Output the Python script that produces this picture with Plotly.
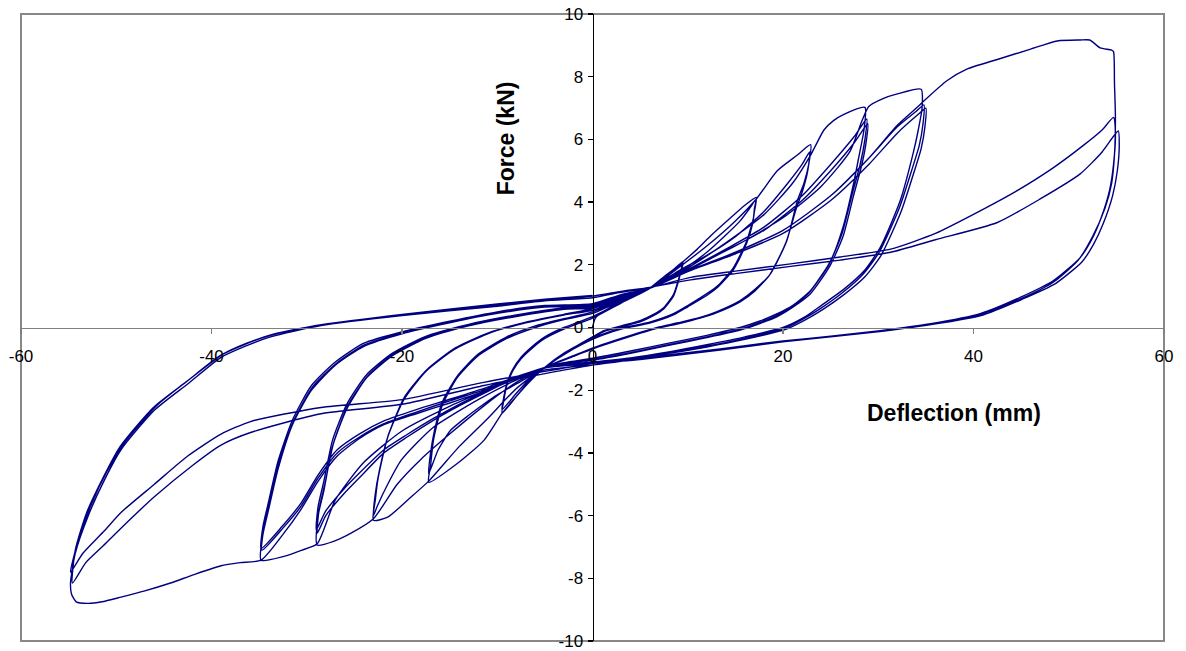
import plotly.graph_objects as go

# Tick values
x_ticks = [-60, -40, -20, 0, 20, 40, 60]
y_ticks = [-10, -8, -6, -4, -2, 0, 2, 4, 6, 8, 10]

# Hysteresis record, cycle by cycle: (deflection mm, force kN)
cyc_10a = [(0,0),(0.3,0.3),(1.2,0.52),(3,0.82),(4.8,1.05),(6,1.25),(7.5,1.6),(8.5,1.85),(9.5,2.1),
           (9.3,1.85),(9.0,1.5),(8.5,1.05),(7.5,0.64),(6.3,0.4),(5,0.22),(3,0.05),(1.2,-0.1),(0,-0.3),(-2,-0.65),(-3.8,-1.0),(-5,-1.27),(-6.5,-1.65),(-8,-2.2),(-9.5,-2.74),
           (-9.3,-2.3),(-9.0,-1.85),(-8.4,-1.4),(-7.5,-1.0),(-6.3,-0.65),(-5,-0.35),(-3,-0.05)]
cyc_10b = [(0,0.3),(3,0.78),(4.8,1.05),(6,1.25),(7.5,1.55),(8.5,1.8),(9.5,2.05),
           (9.3,1.8),(9.0,1.45),(8.5,1.0),(7.5,0.6),(6.3,0.36),(5,0.18),(3,0.02),(1.2,-0.13),(0,-0.33),(-2,-0.68),(-3.8,-1.02),(-5,-1.27),(-6.5,-1.6),(-8,-2.1),(-9.5,-2.62),
           (-9.3,-2.2),(-9.0,-1.8),(-8.4,-1.35),(-7.5,-0.95),(-6.3,-0.6),(-5,-0.3),(-3,0.0)]
cyc_17a = [(0,0.35),(3,0.8),(4.8,1.05),(6,1.25),(7.5,1.62),(8.5,1.85),(9.5,2.1),(11,2.5),(12.5,2.95),(14.5,3.5),(16,3.9),(17.2,4.15),
           (17.0,3.8),(16.9,3.5),(16.2,2.77),(14.8,1.91),(13.2,1.35),(12,1.08),(10,0.7),(8.5,0.44),(6,0.17),(3.3,0),(1,-0.22),(-1,-0.48),(-3,-0.82),(-5,-1.27),(-6.5,-1.7),(-8,-2.2),(-9.5,-2.74),(-11.4,-3.6),(-14.2,-4.34),(-17.2,-4.94),
           (-17.0,-4.4),(-16.7,-3.6),(-15.8,-2.5),(-14.2,-1.6),(-12,-0.9),(-9,-0.35),(-6,0.0),(-3,0.25)]
cyc_17b = [(0,0.45),(3,0.85),(6,1.25),(8,1.6),(10,1.95),(12,2.4),(14,2.95),(15.5,3.4),(16.5,3.8),(17.2,4.1),
           (17.0,3.7),(16.8,3.3),(16.2,2.7),(14.8,1.85),(13.2,1.3),(12,1.02),(10,0.66),(8.5,0.4),(6,0.14),(3.3,-0.03),(1,-0.25),(-1,-0.52),(-3,-0.86),(-5,-1.27),(-8,-1.8),(-10,-2.15),(-11.4,-2.44),(-13,-2.8),(-14.9,-3.28),(-16.2,-3.9),(-17.2,-4.66),
           (-17.0,-4.0),(-16.6,-3.3),(-15.8,-2.4),(-14.2,-1.55),(-12,-0.85),(-9,-0.3),(-6,0.05),(-3,0.28)]
cyc_23a = [(0,0.5),(3,0.88),(6,1.25),(9,1.9),(12,2.6),(15,3.4),(17.2,4.1),(19.4,5.0),(21.5,5.5),(22.9,5.83),
           (22.7,5.2),(22.2,4.6),(21.5,4.04),(20.4,2.77),(18.7,1.72),(17,1.2),(15.5,0.86),(13,0.5),(11.3,0.32),(9,0.15),(6.8,0),(4,-0.25),(1,-0.55),(-2,-0.9),(-5,-1.27),(-8,-1.95),(-11,-2.9),(-14,-3.8),(-17.2,-4.9),(-19.4,-5.5),(-21.5,-6.05),(-23,-6.15),
           (-22.8,-5.5),(-22.5,-4.8),(-21.5,-3.5),(-19.8,-2.3),(-17.5,-1.4),(-14.5,-0.7),(-11,-0.2),(-7,0.15),(-3,0.4)]
cyc_23b = [(0,0.55),(3,0.9),(6,1.25),(9,1.8),(12,2.3),(15,2.9),(18,3.7),(20.5,4.6),(22,5.2),(22.8,5.6),
           (22.6,5.0),(22.1,4.4),(21.4,3.8),(20.3,2.7),(18.6,1.68),(17,1.15),(15.5,0.82),(13,0.47),(11.3,0.3),(9,0.12),(6.8,-0.03),(4,-0.28),(1,-0.58),(-2,-0.92),(-5,-1.27),(-8.2,-1.7),(-12,-2.3),(-14.5,-2.75),(-16.7,-3.18),(-18.5,-3.7),(-20.1,-4.24),(-21.5,-5.0),(-22.6,-5.7),(-23,-6.0),
           (-22.8,-5.3),(-22.4,-4.6),(-21.4,-3.4),(-19.7,-2.2),(-17.4,-1.35),(-14.4,-0.65),(-11,-0.18),(-7,0.17),(-3,0.42)]
cyc_29a = [(0,0.6),(3,0.92),(6,1.25),(10,1.9),(14,2.7),(18,3.6),(21,4.6),(22.9,5.5),(24.3,6.3),(25.3,6.6),(26.4,6.8),(28.6,7.02),
           (28.5,6.3),(28,5.5),(27.4,4.58),(26.3,3.2),(25,2.13),(22.9,1.18),(21,0.7),(19.4,0.44),(17.5,0.2),(15.5,0),(12,-0.25),(8,-0.5),(4,-0.75),(0,-0.98),(-3,-1.12),(-5,-1.27),(-8,-1.75),(-11.4,-2.5),(-15,-3.4),(-18,-4.2),(-20.5,-5.0),(-23,-6.1),(-25.4,-6.57),(-27,-6.8),(-28.9,-6.94),
           (-28.8,-6.0),(-28.2,-5.2),(-27.3,-3.8),(-25.8,-2.6),(-23.7,-1.6),(-21,-0.9),(-17.5,-0.35),(-13,0.05),(-8,0.35),(-3,0.58)]
cyc_29b = [(0,0.62),(3,0.95),(6,1.25),(10,1.85),(14,2.5),(18,3.2),(22,4.2),(25,5.2),(27.5,6.1),(28.8,6.65),
           (28.6,6.0),(28.1,5.2),(27.3,4.3),(26.2,3.0),(24.8,2.0),(22.7,1.1),(21,0.68),(19.3,0.38),(17.5,0.15),(15.5,-0.05),(12,-0.3),(8,-0.55),(4,-0.8),(0,-1.02),(-3,-1.14),(-5,-1.27),(-8,-1.6),(-11.4,-2.1),(-14,-2.5),(-16.7,-2.96),(-19.5,-3.5),(-21.9,-4.0),(-24.5,-4.8),(-26.1,-5.3),(-28,-6.0),(-28.9,-6.56),
           (-28.7,-5.8),(-28.1,-5.0),(-27.2,-3.7),(-25.7,-2.5),(-23.6,-1.55),(-20.9,-0.85),(-17.4,-0.3),(-13,0.08),(-8,0.38),(-3,0.6)]
cyc_29c = [(0,0.64),(3,0.96),(6,1.25),(10,1.82),(14,2.45),(18,3.1),(22,4.05),(25,5.0),(27.5,5.9),(28.9,6.5),
           (28.7,5.85),(28.2,5.1),(27.4,4.2),(26.3,2.9),(24.9,1.95),(22.8,1.05),(21,0.64),(19.4,0.35),(17.5,0.12),(15.5,-0.08),(12,-0.32),(8,-0.57),(4,-0.82),(0,-1.04),(-3,-1.15),(-5,-1.28),(-8,-1.58),(-11.4,-2.05),(-14,-2.45),(-16.7,-2.9),(-19.5,-3.42),(-21.9,-3.9),(-24.5,-4.65),(-26.1,-5.15),(-28,-5.85),(-29,-6.45),
           (-28.8,-5.7),(-28.2,-4.9),(-27.3,-3.6),(-25.8,-2.45),(-23.7,-1.5),(-21,-0.82),(-17.5,-0.28),(-13,0.1),(-8,0.4),(-3,0.62)]
cyc_35a = [(0,0.66),(3,0.98),(6,1.25),(10,1.85),(15,2.6),(20,3.5),(24,4.5),(27,5.6),(28.3,6.6),(29,7.05),(30.5,7.3),(32,7.45),(34.5,7.6),
           (34.6,7.0),(34.2,6.3),(33.7,5.6),(32.3,4.04),(30.2,2.55),(28.5,1.8),(26.3,1.2),(24,0.7),(22.2,0.32),(20,0),(16,-0.3),(12,-0.55),(8,-0.78),(4,-0.97),(0,-1.1),(-3,-1.18),(-5,-1.28),(-8,-1.6),(-14.9,-2.5),(-20,-3.3),(-24,-4.3),(-27,-5.5),(-28.9,-6.9),(-30.5,-7.1),(-32.4,-7.3),(-34.8,-7.42),
           (-34.6,-6.6),(-34,-5.8),(-33,-4.5),(-31.5,-3.1),(-29.5,-2.0),(-27,-1.2),(-24,-0.6),(-20,-0.2),(-15,0.15),(-10,0.45),(-5,0.65)]
cyc_35b = [(0,0.7),(3,1.0),(6,1.25),(10,1.8),(15,2.4),(20,3.1),(25,4.2),(29,5.4),(32,6.4),(34,6.9),(34.8,7.1),
           (34.7,6.5),(34.3,5.8),(33.6,5.1),(32.2,3.8),(30.1,2.4),(28.4,1.7),(26.2,1.1),(24,0.62),(22,0.25),(20,-0.05),(16,-0.35),(12,-0.6),(8,-0.8),(4,-0.98),(0,-1.12),(-3,-1.2),(-5,-1.28),(-7.9,-1.58),(-11,-1.95),(-14.9,-2.33),(-18.5,-2.7),(-21.9,-3.07),(-24.5,-3.5),(-26.8,-4.0),(-28.8,-4.8),(-30.6,-5.7),(-32.5,-6.4),(-34.7,-7.1),
           (-34.5,-6.4),(-33.9,-5.6),(-32.9,-4.3),(-31.4,-3.0),(-29.4,-1.9),(-26.9,-1.15),(-23.9,-0.55),(-20,-0.18),(-15,0.18),(-10,0.48),(-5,0.68)]
cyc_35c = [(0,0.72),(3,1.02),(6,1.25),(10,1.78),(15,2.35),(20,3.0),(25,4.05),(29,5.2),(32,6.2),(34.2,6.8),(35,7.0),
           (34.9,6.4),(34.5,5.7),(33.8,5.0),(32.4,3.7),(30.3,2.3),(28.6,1.62),(26.4,1.05),(24.2,0.58),(22.2,0.22),(20.2,-0.07),(16,-0.38),(12,-0.62),(8,-0.82),(4,-1.0),(0,-1.14),(-3,-1.22),(-5,-1.29),(-7.9,-1.56),(-11,-1.9),(-14.9,-2.28),(-18.5,-2.62),(-21.9,-2.98),(-24.5,-3.4),(-26.8,-3.9),(-28.8,-4.7),(-30.6,-5.6),(-32.6,-6.35),(-34.8,-7.05),
           (-34.6,-6.35),(-34,-5.55),(-33,-4.25),(-31.5,-2.95),(-29.5,-1.85),(-27,-1.1),(-24,-0.5),(-20,-0.14),(-15,0.2),(-10,0.5),(-5,0.7)]
cyc_55a = [(0,0.76),(3,1.05),(6,1.25),(10,1.78),(15,2.4),(20,3.1),(25,4.2),(29,5.4),(32,6.45),(34,7.0),(34.7,7.2),(37.2,7.87),(39.3,8.24),(42.5,8.55),(46,8.88),(48.8,9.14),(51.2,9.17),(52.2,9.17),(53.3,8.92),(54.5,8.85),(54.7,8.8),(54.8,7.8),(54.9,6.7),
           (54.8,5.5),(54.5,4.6),(53.8,3.8),(52.5,2.9),(51,2.15),(48.4,1.45),(45,0.92),(40.7,0.42),(35.5,0.1),(30.2,-0.12),(25,-0.3),(20,-0.45),(13.4,-0.7),(5,-1.0),(0,-1.2),(-5,-1.35),(-7.9,-1.62),(-11,-2.0),(-14.9,-2.4),(-18.5,-2.75),(-21.9,-3.1),(-24.5,-3.55),(-26.8,-4.1),(-28.8,-4.9),(-30.6,-5.8),(-32.5,-6.6),(-34.8,-7.42),(-37,-7.5),(-39,-7.6),(-42,-7.9),(-44.3,-8.15),(-47,-8.4),(-49.5,-8.6),(-51.5,-8.75),(-53,-8.8),(-54.2,-8.75),(-54.7,-8.5),(-54.8,-8.15),
           (-54.3,-7.2),(-53,-6.05),(-51.3,-4.9),(-49.5,-3.9),(-46,-2.64),(-42.5,-1.8),(-39,-0.95),(-36.5,-0.6),(-33.8,-0.3),(-28.5,0.06),(-20,0.38),(-10,0.68),(-5,0.85)]
cyc_55b = [(0,0.95),(3,1.12),(6,1.27),(10.3,1.6),(15,1.8),(20.8,2.03),(26,2.25),(31.3,2.5),(36,3.0),(40.7,3.72),(44.5,4.35),(48.4,5.1),(51.5,5.8),(53.5,6.3),(54.7,6.7),
           (54.9,6.2),(54.7,5.2),(54.3,4.4),(53.4,3.5),(52.4,2.8),(51.2,2.23),(48.4,1.5),(44.9,0.96),(40.7,0.44),(35.5,0.12),(30.2,-0.1),(25,-0.28),(20,-0.43),(13.4,-0.68),(5,-0.98),(0,-1.2),(-5,-1.47),(-11.4,-1.85),(-20,-2.45),(-28.5,-2.75),(-35.9,-3.35),(-39,-3.75),(-42,-4.4),(-46,-5.4),(-49.5,-6.4),(-51.5,-7.0),(-53.2,-7.5),(-54.6,-8.15),
           (-54.3,-7.1),(-53.1,-5.9),(-51.4,-4.8),(-49.6,-3.8),(-46.1,-2.55),(-42.6,-1.72),(-39.1,-0.9),(-36.6,-0.55),(-33.9,-0.26),(-28.6,0.08),(-20,0.4),(-10,0.72),(-5,0.88)]
cyc_55c = [(0,1.0),(3,1.15),(6,1.28),(10.3,1.52),(15,1.72),(20.8,1.95),(26,2.15),(31.3,2.4),(36,2.8),(42.5,3.35),(47,4.1),(51.2,4.9),(53.5,5.6),(54.7,6.1),(55.2,6.27),
           (55.3,5.8),(55.1,5.0),(54.6,4.2),(53.6,3.3),(52.6,2.65),(51.4,2.1),(48.6,1.4),(45.1,0.9),(41,0.4),(35.7,0.1),(30.4,-0.12),(25,-0.3),(20,-0.46),(13.4,-0.72),(5,-1.02),(0,-1.15),(-5,-1.4),(-11.4,-1.75),(-20,-2.3),(-28.5,-2.55),(-35.9,-3.0),(-39,-3.4),(-42.5,-4.1),(-46,-5.0),(-49.5,-5.9),(-51.3,-6.5),(-53.5,-7.2),(-54.8,-7.8),
           (-54.0,-6.8),(-52.7,-5.7),(-51.0,-4.6),(-49.2,-3.7),(-45.8,-2.5),(-42.3,-1.65),(-38.8,-0.85),(-36.3,-0.5),(-33.6,-0.22),(-28.3,0.1),(-20,0.42),(-10,0.75),(-5,0.9),(0,1.02)]

cycles = [cyc_10a, cyc_10b, cyc_17a, cyc_17b, cyc_23a, cyc_23b, cyc_29a, cyc_29b, cyc_29c,
          cyc_35a, cyc_35b, cyc_35c, cyc_55a, cyc_55b, cyc_55c]

deflection = [p[0] for c in cycles for p in c]
force = [p[1] for c in cycles for p in c]

FONT = "Liberation Sans, Arial, sans-serif"

fig = go.Figure()
fig.add_trace(go.Scatter(x=deflection, y=force, mode="lines",
                         line=dict(color="#000080", width=1.4, shape="spline", smoothing=0.6),
                         hoverinfo="skip"))

fig.update_layout(
    width=1186, height=651,
    margin=dict(l=21, r=22, t=14, b=10, autoexpand=False),
    plot_bgcolor="white", paper_bgcolor="white",
    showlegend=False,
    font=dict(family=FONT, size=17, color="black"),
    xaxis=dict(range=[-60, 60], tickvals=x_ticks, ticktext=[str(v) for v in x_ticks],
               showgrid=False, zeroline=False, showline=True, linecolor="#808080", linewidth=1.5,
               anchor="free", position=0.5, ticks="outside", ticklen=5, tickwidth=1.5,
               tickcolor="#808080", ticklabelstandoff=8, automargin=False),
    yaxis=dict(range=[-10, 10], tickvals=y_ticks, ticktext=[str(v) for v in y_ticks],
               showgrid=False, zeroline=False, showline=True, linecolor="black", linewidth=1.3,
               anchor="free", position=0.5, ticks="outside", ticklen=5, tickwidth=1.3,
               tickcolor="black", ticklabelstandoff=1, automargin=False),
    shapes=[dict(type="rect", xref="paper", yref="paper", x0=0, x1=1, y0=0, y1=1,
                 line=dict(color="#888888", width=2), layer="below")],
    annotations=[
        dict(text="<b>Deflection (mm)</b>", x=38.0, y=-2.74, xref="x", yref="y",
             showarrow=False, font=dict(size=23, family=FONT)),
        dict(text="<b>Force (kN)</b>", x=-9.13, y=6.02, xref="x", yref="y", textangle=-90,
             showarrow=False, font=dict(size=23, family=FONT)),
    ],
)

fig.write_html("out.html",
               config={"displayModeBar": False, "staticPlot": True},
               post_script="document.body.style.margin='0';document.body.style.padding='0';"
                           "document.documentElement.style.overflow='hidden';")
